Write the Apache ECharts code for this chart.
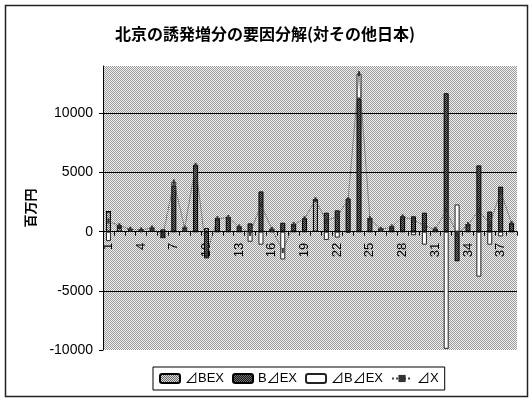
<!DOCTYPE html>
<html>
<head>
<meta charset="utf-8">
<script src="https://cdn.jsdelivr.net/npm/echarts@6/dist/echarts.min.js"></script>
<style>
  html, body { margin: 0; padding: 0; background: #fff; }
  #chart { width: 530px; height: 399px; }
</style>
</head>
<body>
<div id="chart"></div>
<script>
// Category numbers along the x axis
const categories = ['1','2','3','4','5','6','7','8','9','10','11','12','13','14','15','16','17','18','19',
  '20','21','22','23','24','25','26','27','28','29','30','31','32','33','34','35','36','37','38'];

// Factor decomposition (百万円)
const dBEX  = [1700, 300, 100, 100, 200, 200, 0, 200, 0, 300, 0, 0, 0, 0, 0, 0, 0, 0, 0,
  2700, 0, 0, 0, 0, 0, 200, 0, 0, 0, 0, 0, 0, 0, 0, 0, 0, 0, 0];
const BdEX  = [0, 200, 100, 50, 100, -500, 3900, 100, 5600, -2200, 1100, 1200, 400, 700, 3400, 200, 750, 600, 1100,
  0, 1600, 1800, 2800, 11250, 1100, 0, 400, 1250, 1300, 1600, 200, 11700, -2500, 600, 5600, 1700, 3800, 700];
const dBdEX = [-800, 0, 0, 0, 0, 0, 300, 0, 0, 0, 0, 0, 0, -850, -1100, 0, -2350, 0, 0,
  0, -700, -500, -100, 2100, 0, 0, 0, 0, -300, -1100, 0, -9900, 2300, 0, -3800, -1100, -400, 0];
const dX    = [900, 500, 200, 150, 300, -300, 4200, 300, 5600, -1900, 1100, 1200, 400, -150, 2300, 200, -1600, 600, 1100,
  2700, 900, 1300, 2700, 13350, 1100, 200, 400, 1250, 1000, 500, 200, 1800, -200, 600, 1800, 600, 3400, 700];

const seriesNames = ['⊿BEX', 'B⊿EX', '⊿B⊿EX', '⊿X'];
const yTicks = { min: -10000, max: 14000, interval: 5000 };

// Small dithered fills, in the manner of a printed halftone
function dither(a, b) {
  const c = document.createElement('canvas');
  c.width = 2; c.height = 2;
  const g = c.getContext('2d');
  g.fillStyle = b; g.fillRect(0, 0, 2, 2);
  g.fillStyle = a; g.fillRect(0, 0, 1, 1); g.fillRect(1, 1, 1, 1);
  return { image: c, repeat: 'repeat' };
}
const plotFill  = dither('#9a9a9a', '#f2f2f2');
const lightFill = dither('#666666', '#dcdcdc');
const darkFill  = dither('#111111', '#7a7a7a');

const chart = echarts.init(document.getElementById('chart'), null, { renderer: 'canvas' });
const font = '"Liberation Sans", Arial, "Noto Sans CJK JP", sans-serif';
const cjk = '"Noto Sans CJK JP", "Liberation Sans", sans-serif';

chart.setOption({
  animation: false,
  backgroundColor: '#ffffff',
  title: {
    text: '北京の誘発増分の要因分解(対その他日本)',
    left: 'center',
    top: 21,
    textStyle: { fontFamily: cjk, fontSize: 16, fontWeight: 'bold', color: '#000' }
  },
  graphic: [{
    type: 'rect',
    shape: { x: 5.5, y: 5.5, width: 522, height: 391 },
    style: { fill: 'none', stroke: '#222', lineWidth: 1.5 },
    silent: true, z: -1
  }],
  grid: {
    left: 103, right: 13, top: 66, bottom: 49,
    show: true,
    backgroundColor: plotFill,
    borderWidth: 0
  },
  legend: {
    data: seriesNames,
    left: 153,
    top: 367,
    orient: 'horizontal',
    itemWidth: 20,
    itemHeight: 9,
    itemGap: 8,
    padding: [5, 6],
    borderColor: '#000',
    borderWidth: 1,
    borderRadius: 0,
    backgroundColor: '#fff',
    textStyle: { fontFamily: font, fontSize: 13, color: '#000' }
  },
  xAxis: {
    type: 'category',
    data: categories,
    position: 'bottom',
    axisLine: { onZero: false, lineStyle: { color: '#000', width: 1 } },
    axisTick: { show: true, interval: 0, length: 4, lineStyle: { color: '#000' } },
    axisLabel: {
      interval: 2,
      rotate: 90,
      margin: 11,
      fontFamily: font,
      fontSize: 13,
      color: '#000'
    },
    splitLine: { show: false }
  },
  yAxis: {
    type: 'value',
    min: yTicks.min,
    max: yTicks.max,
    interval: yTicks.interval,
    name: '百万円',
    nameLocation: 'middle',
    nameRotate: 90,
    nameGap: 66,
    nameTextStyle: { fontFamily: cjk, fontSize: 13, fontWeight: 'bold', color: '#000' },
    axisLine: { show: true, lineStyle: { color: '#000', width: 1 } },
    axisTick: { show: true, length: 4, lineStyle: { color: '#000' } },
    axisLabel: {
      margin: 10,
      fontFamily: font,
      fontSize: 14,
      color: '#000',
      showMaxLabel: false,
      formatter: v => String(v)
    },
    splitLine: { show: true, showMaxLine: false, showMinLine: false, lineStyle: { color: '#000', width: 1 } }
  },
  series: [
    {
      name: seriesNames[0], type: 'bar', stack: 'factors', data: dBEX, barWidth: 5,
      itemStyle: { color: lightFill, borderColor: '#000', borderWidth: 1 }
    },
    {
      name: seriesNames[1], type: 'bar', stack: 'factors', data: BdEX, barWidth: 5,
      itemStyle: { color: darkFill, borderColor: '#000', borderWidth: 1 }
    },
    {
      name: seriesNames[2], type: 'bar', stack: 'factors', data: dBdEX, barWidth: 5,
      itemStyle: { color: '#ffffff', borderColor: '#222', borderWidth: 1 }
    },
    {
      name: seriesNames[3], type: 'line', data: dX,
      symbol: 'rect', symbolSize: [2, 5],
      itemStyle: { color: '#333' },
      lineStyle: { color: '#444', width: 1, type: 'dotted' },
      z: 5
    }
  ]
});

// Move the category axis (line, ticks and labels) up to the zero value
const zeroY = chart.convertToPixel({ yAxisIndex: 0 }, 0);
const bottomY = chart.convertToPixel({ yAxisIndex: 0 }, yTicks.min);
chart.setOption({ xAxis: { offset: zeroY - bottomY } });
</script>
</body>
</html>
